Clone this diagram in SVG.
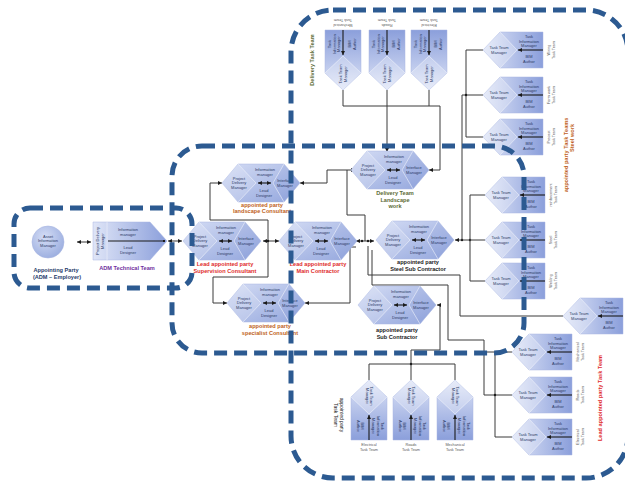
<svg xmlns="http://www.w3.org/2000/svg" width="625" height="488" viewBox="0 0 625 488">
<style>
  .nt{font-family:"Liberation Sans",Arial,sans-serif;font-size:4px;fill:#2b3a66;text-anchor:middle}
  .tl{font-family:"Liberation Sans",Arial,sans-serif;font-size:3.8px;fill:#5a5a5a;text-anchor:middle}
  .lbl{font-family:"Liberation Sans",Arial,sans-serif;font-weight:bold;font-size:5.6px;text-anchor:middle}
  .red{fill:#e02b2b}
  .brown{fill:#c0621b}
  .olive{fill:#5d6b35}
  .blk{fill:#222}
  .navy{fill:#1f3a6a}
  .purple{fill:#7030a0}
  .hexbody{fill:url(#gHex);stroke:#a9b7e3;stroke-width:0.5}
  .taskbody{fill:url(#gTask);stroke:#a9b7e3;stroke-width:0.5}
  .div{fill:none;stroke:#eef1fb;stroke-width:0.7;opacity:0.9}
  .inner{stroke:#1b1b1b;stroke-width:1.1}
  .wire{fill:none;stroke:#3a3a3a;stroke-width:1}
  .zone{fill:none;stroke:#2c5a91;stroke-width:5;stroke-dasharray:13 7}
</style>
<defs>
  <linearGradient id="gHex" x1="0" y1="0" x2="1" y2="1">
    <stop offset="0" stop-color="#d4dcf4"/>
    <stop offset="1" stop-color="#93a6dd"/>
  </linearGradient>
  <linearGradient id="gTask" x1="0" y1="0" x2="1" y2="0">
    <stop offset="0" stop-color="#dfe5f7"/>
    <stop offset="1" stop-color="#8b9fdb"/>
  </linearGradient>
  <radialGradient id="gCircle" cx="0.4" cy="0.35" r="0.7">
    <stop offset="0" stop-color="#d5ddf5"/>
    <stop offset="1" stop-color="#9aaddf"/>
  </radialGradient>
  <marker id="arr" viewBox="0 0 6 6" refX="6" refY="3" markerWidth="4" markerHeight="4" orient="auto-start-reverse" markerUnits="userSpaceOnUse">
    <path d="M0,0 L6,3 L0,6 z" fill="#1b1b1b"/>
  </marker>
  <marker id="dot" viewBox="0 0 4 4" refX="2" refY="2" markerWidth="2.5" markerHeight="2.5" markerUnits="userSpaceOnUse">
    <circle cx="2" cy="2" r="2" fill="#1b1b1b"/>
  </marker>

  <!-- six-sided team block: manager roles around a central link -->
  <g id="hex">
    <polygon class="hexbody" points="-39,0 -23,-19 23,-19 39,0 23,19 -23,19"/>
    <polygon points="-39,0 -23,-19 -5,0 -23,19" fill="#ffffff" opacity="0.18"/>
    <polygon points="39,0 23,-19 12,0 23,19" fill="#6f86cf" opacity="0.12"/>
    <path class="div" d="M-23,-19 L-5,0 L-23,19 M23,-19 L12,0 L23,19"/>
    <line class="inner" x1="-3" y1="0" x2="10" y2="0" marker-start="url(#arr)" marker-end="url(#arr)"/>
    <text class="nt" x="-22" y="-3.5">Project</text>
    <text class="nt" x="-22" y="1">Delivery</text>
    <text class="nt" x="-22" y="5.5">Manager</text>
    <text class="nt" x="4" y="-12">Information</text>
    <text class="nt" x="4" y="-7.5">manager</text>
    <text class="nt" x="24" y="-1">Interface</text>
    <text class="nt" x="24" y="3.5">Manager</text>
    <text class="nt" x="3" y="9">Lead</text>
    <text class="nt" x="3" y="13.5">Designer</text>
  </g>

  <!-- task team block, point at the origin facing left -->
  <g id="task">
    <polygon class="taskbody" points="0,0 17,-18 60,-18 60,18 17,18"/>
    <polygon points="0,0 17,-18 34,0 17,18" fill="#ffffff" opacity="0.25"/>
    <path class="div" d="M17,-18 L34,0 L17,18"/>
    <line class="inner" x1="60" y1="0" x2="35" y2="0" stroke-width="1.3" marker-end="url(#arr)"/>
    <text class="nt" x="16" y="-1">Task Team</text>
    <text class="nt" x="16" y="3.5">Manager</text>
    <text class="nt" x="46" y="-12">Task</text>
    <text class="nt" x="46" y="-7.5">Information</text>
    <text class="nt" x="46" y="-3">Manager</text>
    <text class="nt" x="46" y="8">BIM</text>
    <text class="nt" x="46" y="12.5">Author</text>
  </g>
</defs>

<rect width="625" height="488" fill="#ffffff"/>

<!-- connectors -->
<g id="connectors">
  <line class="wire" x1="77" y1="242" x2="91" y2="242" marker-start="url(#arr)" marker-end="url(#arr)"/>
  <line class="wire" x1="168" y1="241" x2="182" y2="241" marker-start="url(#arr)" marker-end="url(#arr)"/>
  <line class="wire" x1="263" y1="241" x2="279" y2="241" marker-start="url(#arr)" marker-end="url(#arr)"/>
  <path class="wire" d="M222,183 H210 V220 H268 V241" marker-start="url(#arr)"/>
  <path class="wire" d="M227,303 H213 V277 H268 V241" marker-start="url(#arr)"/>
  <circle cx="268" cy="241" r="1.2" fill="#1b1b1b"/>
  <path class="wire" d="M300,183 H327 V170 H355" marker-start="url(#arr)" marker-end="url(#arr)"/>
  <line class="wire" x1="356" y1="241" x2="374" y2="241" marker-start="url(#arr)" marker-end="url(#arr)"/>
  <circle cx="362" cy="241" r="1.2" fill="#1b1b1b"/>
  <circle cx="368" cy="241" r="1.2" fill="#1b1b1b"/>
  <path class="wire" d="M365,241 V215 H347 V170"/>
  <!-- delivery task team feed -->
  <path class="wire" d="M343,90 V106 H429 V90"/>
  <path class="wire" d="M387,90 V152" marker-end="url(#arr)"/>
  <path class="wire" d="M429,170 H440 V106 H429" marker-start="url(#arr)"/>
  <!-- steel work task teams -->
  <line class="wire" x1="455" y1="240" x2="470" y2="240" marker-start="url(#arr)"/>
  <circle cx="462" cy="240" r="1.2" fill="#1b1b1b"/>
  <circle cx="470" cy="240" r="1.2" fill="#1b1b1b"/>
  <path class="wire" d="M462,240 V95 H466"/>
  <path class="wire" d="M483,50 H466 V137 H483 M466,95 H483"/>
  <circle cx="466" cy="95" r="1.2" fill="#1b1b1b"/>
  <path class="wire" d="M485,195 H470 V281 H485 M470,240 H485"/>
  <!-- lines leaving the main contractor -->
  <path class="wire" d="M305,303 H350 V247 H356" marker-start="url(#arr)"/>
  <path class="wire" d="M368,246 V275 H460 V316 H563"/>
  <path class="wire" d="M372,250 V285 H448 V340 H484 V395 H512"/>
  <path class="wire" d="M437,305 H440 V350 H411 V364" marker-start="url(#arr)"/>
  <path class="wire" d="M369,380 V364 H455 V380 M411,364 V380"/>
  <circle cx="411" cy="364" r="1.2" fill="#1b1b1b"/>
  <path class="wire" d="M484,352 H512 M495,352 V437 H512"/>
  <circle cx="495" cy="395" r="1.2" fill="#1b1b1b"/>
</g>

<!-- appointing party -->
<g id="appointing-party">
  <circle cx="48" cy="242" r="16" fill="url(#gCircle)" stroke="#a9b7e3" stroke-width="0.6"/>
  <text class="nt" x="48" y="237.5">Asset</text>
  <text class="nt" x="48" y="242">Information</text>
  <text class="nt" x="48" y="246.5">Manager</text>
  <text class="lbl navy" x="56" y="272">Appointing Party</text>
  <text class="lbl navy" x="57" y="279">(ADM – Employer)</text>
</g>

<g id="adm-technical-team">
  <polygon class="taskbody" points="93,222 150,222 167,241 150,260 93,260"/>
  <line class="div" x1="107" y1="222" x2="107" y2="260"/>
  <line class="inner" x1="108" y1="241" x2="164" y2="241" marker-end="url(#dot)"/>
  <g transform="translate(100,241) rotate(-90)">
    <text class="nt" x="0" y="-1">Project Delivery</text>
    <text class="nt" x="0" y="3.5">Manager</text>
  </g>
  <text class="nt" x="128" y="231">Information</text>
  <text class="nt" x="128" y="235.5">manager</text>
  <text class="nt" x="128" y="249">Lead</text>
  <text class="nt" x="128" y="253.5">Designer</text>
  <text class="lbl purple" x="127" y="270">ADM Technical Team</text>
</g>

<g id="landscape-consultant">
  <use href="#hex" x="261" y="183"/>
  <text class="lbl brown" x="262" y="207">appointed party</text>
  <text class="lbl brown" x="262" y="213">landscape Consultant</text>
</g>

<g id="supervision-consultant">
  <use href="#hex" x="222" y="241"/>
  <text class="lbl red" x="225" y="266">Lead appointed party</text>
  <text class="lbl red" x="225" y="272.5">Supervision Consultant</text>
</g>

<g id="main-contractor">
  <use href="#hex" x="318" y="241"/>
  <text class="lbl red" x="318" y="266">Lead appointed party</text>
  <text class="lbl red" x="318" y="272.5">Main Contractor</text>
</g>

<g id="specialist-consultant">
  <use href="#hex" x="266" y="303"/>
  <text class="lbl brown" x="270" y="328">appointed party</text>
  <text class="lbl brown" x="270" y="334.5">specialist Consultant</text>
</g>

<g id="landscape-delivery-team">
  <use href="#hex" x="390" y="170"/>
  <text class="lbl olive" x="395" y="195">Delivery Team</text>
  <text class="lbl olive" x="395" y="201.5">Landscape</text>
  <text class="lbl olive" x="395" y="208">work</text>
</g>

<g id="steel-sub-contractor">
  <use href="#hex" x="415" y="240"/>
  <text class="lbl blk" x="418" y="264">appointed party</text>
  <text class="lbl blk" x="418" y="270.5">Steel Sub Contractor</text>
</g>

<g id="sub-contractor">
  <use href="#hex" x="397" y="305"/>
  <text class="lbl blk" x="397" y="332">appointed party</text>
  <text class="lbl blk" x="397" y="338.5">Sub Contractor</text>
</g>

<!-- delivery task team, blocks pointing down -->
<g id="delivery-task-1">
  <use href="#task" transform="translate(343,90) rotate(-90)"/>
  <g transform="translate(343,22) rotate(180)"><text class="tl" y="-1.5">Mechanical</text><text class="tl" y="3">Task Team</text></g>
</g>
<g id="delivery-task-2">
  <use href="#task" transform="translate(387,90) rotate(-90)"/>
  <g transform="translate(387,22) rotate(180)"><text class="tl" y="-1.5">Roads</text><text class="tl" y="3">Task Team</text></g>
</g>
<g id="delivery-task-3">
  <use href="#task" transform="translate(429,90) rotate(-90)"/>
  <g transform="translate(429,22) rotate(180)"><text class="tl" y="-1.5">Electrical</text><text class="tl" y="3">Task Team</text></g>
</g>
<g transform="translate(314,60) rotate(-90)"><text class="lbl olive" y="0">Delivery Task Team</text></g>

<!-- steel work task teams -->
<g id="wiring-task-team">
  <use href="#task" x="483" y="50"/>
  <g transform="translate(551,50) rotate(-90)"><text class="tl" y="-1">Wiring</text><text class="tl" y="3.5">Task Team</text></g>
</g>
<g id="formwork-task-team">
  <use href="#task" x="483" y="95"/>
  <g transform="translate(551,95) rotate(-90)"><text class="tl" y="-1">Form work</text><text class="tl" y="3.5">Task Team</text></g>
</g>
<g id="precast-task-team">
  <use href="#task" x="483" y="137"/>
  <g transform="translate(551,137) rotate(-90)"><text class="tl" y="-1">Precast</text><text class="tl" y="3.5">Task Team</text></g>
</g>
<g id="reinforcement-task-team">
  <use href="#task" x="485" y="195"/>
  <g transform="translate(553,195) rotate(-90)"><text class="tl" y="-1">reinforcement</text><text class="tl" y="3.5">Task Team</text></g>
</g>
<g id="steel-task-team">
  <use href="#task" x="485" y="240"/>
  <g transform="translate(553,240) rotate(-90)"><text class="tl" y="-1">Steel</text><text class="tl" y="3.5">Task Team</text></g>
</g>
<g id="welding-task-team">
  <use href="#task" x="485" y="281"/>
  <g transform="translate(553,281) rotate(-90)"><text class="tl" y="-1">Welding</text><text class="tl" y="3.5">Task Team</text></g>
</g>
<g transform="translate(568,155) rotate(-90)"><text class="lbl brown" y="0">appointed party Task Teams</text></g>
<g transform="translate(574,138) rotate(-90)"><text class="lbl brown" y="0">Steel work</text></g>

<g id="contractor-task-team">
  <use href="#task" x="563" y="316"/>
</g>

<!-- lead appointed party task teams -->
<g id="mechanical-task-team">
  <use href="#task" x="512" y="352"/>
  <g transform="translate(580,352) rotate(-90)"><text class="tl" y="-1">Mechanical</text><text class="tl" y="3.5">Task Team</text></g>
</g>
<g id="roads-task-team">
  <use href="#task" x="512" y="395"/>
  <g transform="translate(580,395) rotate(-90)"><text class="tl" y="-1">Roads</text><text class="tl" y="3.5">Task Team</text></g>
</g>
<g id="electrical-task-team">
  <use href="#task" x="512" y="437"/>
  <g transform="translate(580,437) rotate(-90)"><text class="tl" y="-1">Electrical</text><text class="tl" y="3.5">Task Team</text></g>
</g>
<g transform="translate(602,398) rotate(-90)"><text class="lbl red" y="0">Lead appointed party Task Team</text></g>

<!-- appointed party task teams, blocks pointing up -->
<g id="sub-electrical-task-team">
  <use href="#task" transform="translate(369,380) rotate(90)"/>
  <text class="tl" x="369" y="446">Electrical</text><text class="tl" x="369" y="450.5">Task Team</text>
</g>
<g id="sub-roads-task-team">
  <use href="#task" transform="translate(411,380) rotate(90)"/>
  <text class="tl" x="411" y="446">Roads</text><text class="tl" x="411" y="450.5">Task Team</text>
</g>
<g id="sub-mechanical-task-team">
  <use href="#task" transform="translate(455,380) rotate(90)"/>
  <text class="tl" x="455" y="446">Mechanical</text><text class="tl" x="455" y="450.5">Task Team</text>
</g>
<g transform="translate(338,415) rotate(90)">
  <text class="lbl blk" style="font-weight:normal;font-size:5px" y="-2">appointed party</text>
  <text class="lbl blk" style="font-weight:normal;font-size:5px" y="4">Task Team</text>
</g>

<!-- dashed zones -->
<g id="zones">
  <rect class="zone" x="14" y="208" width="178" height="80" rx="16"/>
  <rect class="zone" x="172" y="146" width="352" height="207" rx="30"/>
  <rect class="zone" x="291" y="10" width="337" height="468" rx="42"/>
</g>
</svg>
